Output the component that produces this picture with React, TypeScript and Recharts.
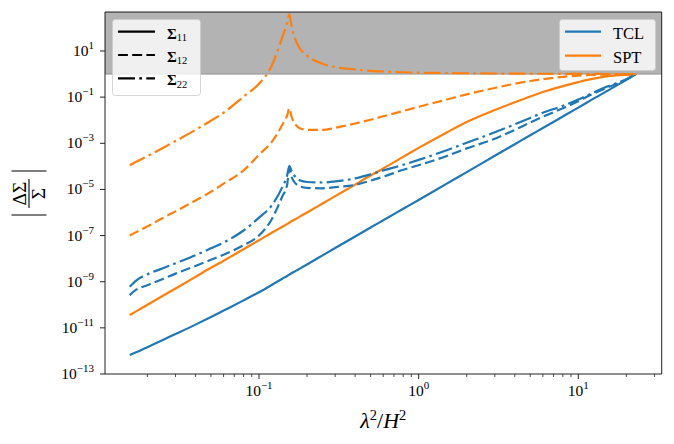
import React from "react";
import { LineChart, Line, XAxis, YAxis, ReferenceArea, Legend } from "recharts";

// lambda^2 / H^2
const X = [
  0.0155, 0.017, 0.02, 0.025, 0.03, 0.04, 0.05, 0.06, 0.08, 0.1, 0.12, 0.14, 0.15, 0.155, 0.16,
  0.17, 0.18, 0.2, 0.25, 0.3, 0.4, 0.5, 0.6, 0.8, 1, 1.5, 2, 3, 4, 5, 6, 8, 10, 12, 15, 20, 23,
];

const TCL_S11 = [
  6.6e-13, 8.7e-13, 1.45e-12, 3.0e-12, 5.4e-12, 1.38e-11, 2.95e-11, 5.6e-11, 1.55e-10, 3.5e-10,
  7.2e-10, 1.35e-9, 1.78e-9, 2.04e-9, 2.34e-9, 2.95e-9, 3.7e-9, 5.6e-9, 1.38e-8, 2.9e-8, 9.1e-8,
  2.24e-7, 4.6e-7, 1.45e-6, 3.5e-6, 1.78e-5, 5.6e-5, 2.9e-4, 9.1e-4, 2.24e-3, 4.6e-3, 0.0145,
  0.035, 0.074, 0.178, 0.56, 1.0,
];
const TCL_S12 = [
  2.63e-10, 4.5e-10, 7.1e-10, 1.32e-9, 2.24e-9, 4.8e-9, 8.9e-9, 1.48e-8, 3.8e-8, 1.0e-7, 5.0e-7,
  5.0e-6, 1.58e-5, 8.3e-5, 3.55e-5, 1.78e-5, 1.35e-5, 1.17e-5, 1.12e-5, 1.26e-5, 1.58e-5, 2.4e-5,
  3.55e-5, 7.1e-5, 1.12e-4, 2.8e-4, 6.0e-4, 1.58e-3, 3.8e-3, 7.9e-3, 0.0141, 0.033, 0.066, 0.126,
  0.25, 0.575, 1.0,
];
const TCL_S22 = [
  6.0e-10, 1.12e-9, 2.1e-9, 3.8e-9, 6.3e-9, 1.41e-8, 2.8e-8, 5.0e-8, 1.66e-7, 6.0e-7, 2.0e-6,
  1.26e-5, 4.0e-5, 1.05e-4, 6.3e-5, 3.3e-5, 2.5e-5, 2.1e-5, 2.0e-5, 2.24e-5, 3.0e-5, 4.5e-5,
  6.6e-5, 1.17e-4, 1.9e-4, 5.0e-4, 1.05e-3, 3.0e-3, 6.6e-3, 0.0126, 0.021, 0.042, 0.079, 0.141,
  0.28, 0.6, 1.0,
];
const SPT_S11 = [
  3.6e-11, 5.2e-11, 1.0e-10, 2.45e-10, 5.1e-10, 1.62e-9, 4.0e-9, 8.1e-9, 2.57e-8, 6.3e-8, 1.32e-7,
  2.4e-7, 3.16e-7, 3.6e-7, 4.2e-7, 5.2e-7, 6.6e-7, 1.0e-6, 2.45e-6, 5.1e-6, 1.62e-5, 4.0e-5,
  8.1e-5, 2.57e-4, 6.3e-4, 2.95e-3, 8.3e-3, 0.0275, 0.06, 0.107, 0.166, 0.3, 0.447, 0.6, 0.79,
  0.93, 0.977,
];
const SPT_S12 = [
  1.0e-7, 1.41e-7, 2.5e-7, 5.8e-7, 1.12e-6, 3.3e-6, 7.9e-6, 1.78e-5, 6.6e-5, 3.2e-4, 1.12e-3,
  6.3e-3, 0.0158, 0.033, 0.0141, 6.3e-3, 4.5e-3, 3.8e-3, 3.8e-3, 4.7e-3, 7.2e-3, 0.0105, 0.0148,
  0.025, 0.038, 0.079, 0.132, 0.25, 0.38, 0.5, 0.6, 0.76, 0.85, 0.91, 0.955, 0.977, 1.0,
];
const SPT_S22 = [
  1.12e-4, 1.58e-4, 2.8e-4, 6.3e-4, 1.26e-3, 3.8e-3, 9.5e-3, 0.021, 0.105, 0.38, 2.24, 40, 158,
  400, 112, 28, 13.2, 6.3, 2.8, 2.0, 1.58, 1.38, 1.29, 1.2, 1.15, 1.11, 1.085, 1.06, 1.047, 1.037,
  1.03, 1.023, 1.018, 1.014, 1.009, 1.005, 1.0,
];

const X_MAJOR = [0.1, 1, 10];
const X_TICKS = [
  0.02, 0.03, 0.04, 0.05, 0.06, 0.07, 0.08, 0.09, 0.1, 0.2, 0.3, 0.4, 0.5, 0.6, 0.7, 0.8, 0.9, 1,
  2, 3, 4, 5, 6, 7, 8, 9, 10, 20, 30,
];
const Y_TICKS = [1e1, 1e-1, 1e-3, 1e-5, 1e-7, 1e-9, 1e-11, 1e-13];
const X_DOMAIN: [number, number] = [0.01085, 33.3];
const Y_DOMAIN: [number, number] = [1e-13, 490];

const MODELS = ["TCL", "SPT"];
const COMPONENTS = ["11", "12", "22"];

const BLUE = "#1f77b4";
const ORANGE = "#ff7f0e";
const FONT = '"Liberation Serif", "DejaVu Serif", serif';
const DASHES = [undefined, "9.9 4.3", "17 4.3 2.7 4.3"];
const W = 674;
const H = 444;

const data = X.map((x, i) => ({
  x,
  tcl11: TCL_S11[i],
  tcl12: TCL_S12[i],
  tcl22: TCL_S22[i],
  spt11: SPT_S11[i],
  spt12: SPT_S12[i],
  spt22: SPT_S22[i],
}));

function expText(v: number) {
  const e = Math.round(Math.log10(v));
  return e < 0 ? "\u2212" + -e : String(e);
}

function XTick({ x, y, payload }: any) {
  const v = payload.value;
  const major = X_MAJOR.some((m) => Math.abs(m - v) < 1e-9);
  return (
    <g>
      <line x1={x} x2={x} y1={y} y2={y + (major ? 5 : 3)} stroke="#222" strokeWidth={major ? 1 : 0.8} />
      {major && (
        <text x={x} y={y + 21.5} textAnchor="middle" fontSize={15.5} fontFamily={FONT} fill="#000">
          10
          <tspan dy={-7} fontSize={11}>
            {expText(v)}
          </tspan>
        </text>
      )}
    </g>
  );
}

function YTick({ x, y, payload }: any) {
  return (
    <g>
      <line x1={x - 5} x2={x} y1={y} y2={y} stroke="#222" strokeWidth={1} />
      <text x={x - 11} y={y + 5} textAnchor="end" fontSize={15.5} fontFamily={FONT} fill="#000">
        10
        <tspan dy={-7} fontSize={11}>
          {expText(payload.value)}
        </tspan>
      </text>
    </g>
  );
}

function XLabel({ viewBox }: any) {
  const cx = viewBox.x + viewBox.width / 2;
  return (
    <text x={cx} y={viewBox.y + 54} textAnchor="middle" fontSize={22} fontFamily={FONT} fill="#000">
      <tspan fontStyle="italic">λ</tspan>
      <tspan dy={-8.5} fontSize={14.5}>2</tspan>
      <tspan dy={8.5}>/</tspan>
      <tspan fontStyle="italic">H</tspan>
      <tspan dy={-8.5} fontSize={14.5}>2</tspan>
    </text>
  );
}

function YLabel({ viewBox }: any) {
  const cy = viewBox.y + viewBox.height / 2;
  return (
    <g transform={`translate(29,${cy}) rotate(-90)`} fontFamily={FONT} fill="#000">
      <line x1={-22} x2={-22} y1={-17.5} y2={17.5} stroke="#000" strokeWidth={1.1} />
      <line x1={22} x2={22} y1={-17.5} y2={17.5} stroke="#000" strokeWidth={1.1} />
      <line x1={-15} x2={14} y1={0} y2={0} stroke="#000" strokeWidth={1.1} />
      <text x={-0.5} y={-3} textAnchor="middle" fontSize={19.5}>
        ΔΣ
      </text>
      <text x={-0.5} y={15.5} textAnchor="middle" fontSize={19.5}>
        Σ
      </text>
    </g>
  );
}

function Legends() {
  return (
    <>
      <svg style={{ position: "absolute", left: 112, top: 19, overflow: "visible" }} width={89} height={77}>
        <rect x={0.5} y={0.5} width={88} height={76} rx={3} fill="rgba(255,255,255,0.8)" stroke="rgba(204,204,204,0.8)" />
        {COMPONENTS.map((c, i) => (
          <g key={c}>
            <line x1={6} x2={43} y1={12.7 + i * 23.3} y2={12.7 + i * 23.3} stroke="#000" strokeWidth={2.2} strokeDasharray={DASHES[i]} />
            <text x={55} y={19.5 + i * 23.3} fontFamily={FONT} fontSize={15} fill="#000">
              <tspan fontWeight="bold">Σ</tspan>
              <tspan fontSize={10.5} dy={2.5}>
                {c}
              </tspan>
            </text>
          </g>
        ))}
      </svg>
      <svg style={{ position: "absolute", left: 559, top: 19, overflow: "visible" }} width={97} height={52}>
        <rect x={0.5} y={0.5} width={96} height={51} rx={3} fill="rgba(255,255,255,0.8)" stroke="rgba(204,204,204,0.8)" />
        {MODELS.map((m, i) => (
          <g key={m}>
            <line x1={6} x2={42} y1={12.7 + i * 24} y2={12.7 + i * 24} stroke={i === 0 ? BLUE : ORANGE} strokeWidth={2.2} />
            <text x={54} y={20 + i * 24} fontFamily={FONT} fontSize={16.5} fill="#000">
              {m}
            </text>
          </g>
        ))}
      </svg>
    </>
  );
}

export default function App() {
  return (
    <div style={{ position: "absolute", left: 0, top: 0, width: W, height: H, background: "#fff" }}>
      <LineChart width={W} height={H} data={data} margin={{ top: 12, right: 12.3, bottom: 0, left: 0 }}>
        <XAxis
          dataKey="x"
          type="number"
          scale="log"
          domain={X_DOMAIN}
          allowDataOverflow
          ticks={X_TICKS}
          interval={0}
          tick={<XTick />}
          tickLine={false}
          tickSize={0}
          tickMargin={0}
          axisLine={false}
          height={70}
          label={{ content: (p: any) => <XLabel {...p} /> }}
        />
        <YAxis
          type="number"
          scale="log"
          domain={Y_DOMAIN}
          allowDataOverflow
          ticks={Y_TICKS}
          interval={0}
          tick={<YTick />}
          tickLine={false}
          tickSize={0}
          tickMargin={0}
          axisLine={false}
          width={105}
          label={{ content: (p: any) => <YLabel {...p} /> }}
        />
        <ReferenceArea x1={X_DOMAIN[0]} x2={X_DOMAIN[1]} y1={1} y2={Y_DOMAIN[1]} fill="#b3b3b3" fillOpacity={1} stroke="#949494" strokeWidth={1} ifOverflow="hidden" />
        <Line dataKey="tcl11" stroke={BLUE} strokeWidth={2.2} dot={false} type="monotone" isAnimationActive={false} />
        <Line dataKey="spt11" stroke={ORANGE} strokeWidth={2.2} dot={false} type="monotone" isAnimationActive={false} />
        <Line dataKey="tcl12" stroke={BLUE} strokeWidth={2.2} strokeDasharray={DASHES[1]} dot={false} type="monotone" isAnimationActive={false} />
        <Line dataKey="spt12" stroke={ORANGE} strokeWidth={2.2} strokeDasharray={DASHES[1]} dot={false} type="monotone" isAnimationActive={false} />
        <Line dataKey="tcl22" stroke={BLUE} strokeWidth={2.2} strokeDasharray={DASHES[2]} dot={false} type="monotone" isAnimationActive={false} />
        <Line dataKey="spt22" stroke={ORANGE} strokeWidth={2.2} strokeDasharray={DASHES[2]} dot={false} type="monotone" isAnimationActive={false} />
        <ReferenceArea x1={X_DOMAIN[0]} x2={X_DOMAIN[1]} y1={Y_DOMAIN[0]} y2={Y_DOMAIN[1]} fill="none" stroke="#222" strokeWidth={1} ifOverflow="visible" />
        <Legend
          layout="vertical"
          align="center"
          verticalAlign="middle"
          wrapperStyle={{ position: "absolute", left: 0, top: 0, width: W, height: H, pointerEvents: "none" }}
          content={() => <Legends />}
        />
      </LineChart>
    </div>
  );
}
